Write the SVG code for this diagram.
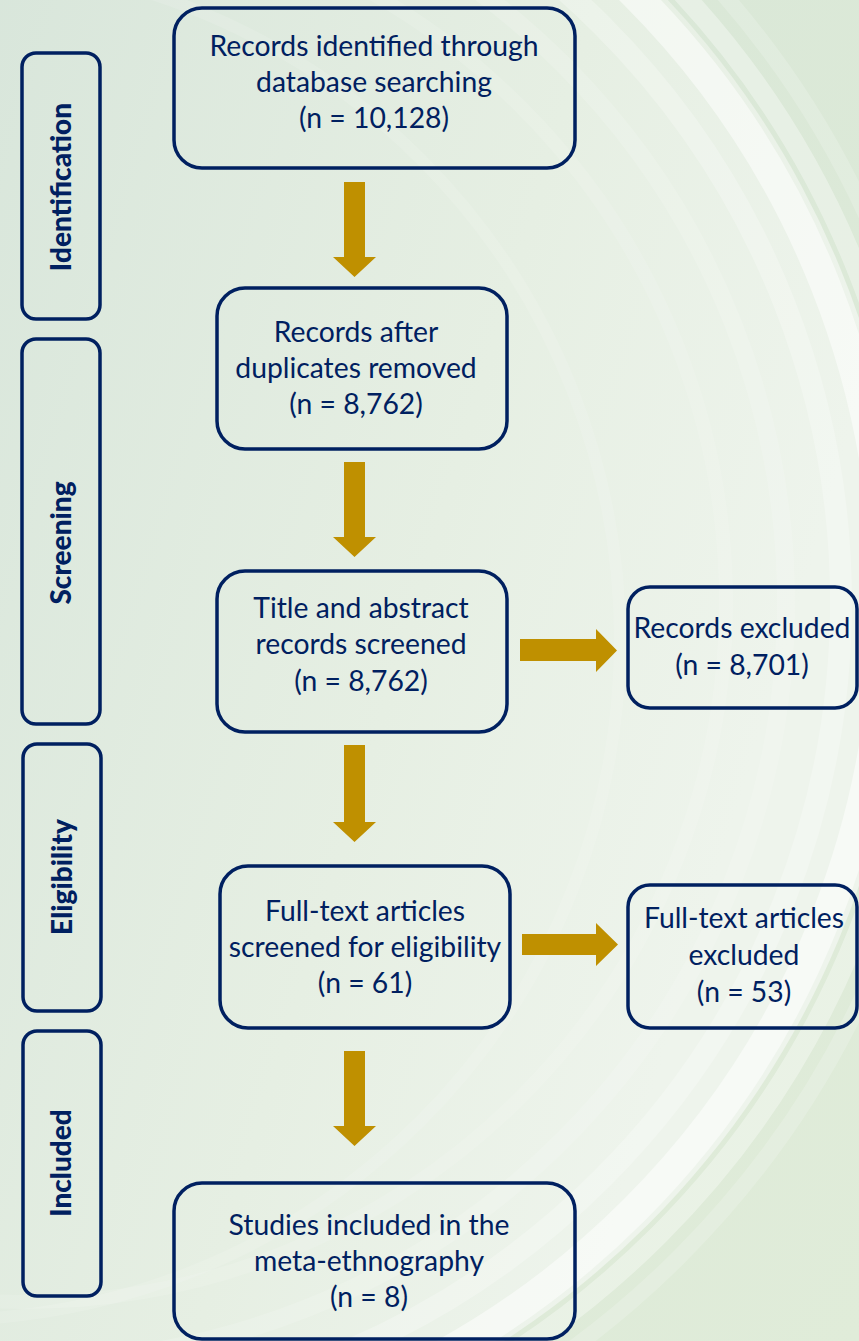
<svg xmlns="http://www.w3.org/2000/svg" width="859" height="1341" viewBox="0 0 859 1341">
<defs>
<linearGradient id="bgOuter" x1="0" y1="0" x2="1" y2="1">
<stop offset="0" stop-color="#d6e5d6"/>
<stop offset="1" stop-color="#e0ecd9"/>
</linearGradient>
<linearGradient id="bgInner" x1="0" y1="0" x2="1" y2="0.3">
<stop offset="0" stop-color="#cddedb"/>
<stop offset="0.45" stop-color="#d7e5da"/>
<stop offset="0.8" stop-color="#e6efe3"/>
<stop offset="1" stop-color="#eef4ec"/>
</linearGradient>
<style>
.box{fill:none;stroke:#002060;stroke-width:3.5}
.t{font-family:Lato,"Open Sans","Liberation Sans",sans-serif;font-size:28.3px;fill:#002060;text-anchor:middle}
.lab{font-family:Lato,"Open Sans","Liberation Sans",sans-serif;font-size:28px;font-weight:900;fill:#002060;text-anchor:middle}
.arr{fill:#bf9000}
.arc{fill:none;stroke:#ffffff}
</style>
</defs>
<g id="background">
<rect x="0" y="0" width="859" height="1341" fill="url(#bgOuter)"/>
<circle cx="26" cy="602" r="880" fill="url(#bgInner)"/>
<circle class="arc" cx="-60" cy="640" r="680" stroke-width="12" stroke-opacity="0.12"/>
<circle class="arc" cx="26" cy="602" r="700" stroke-width="14" stroke-opacity="0.12"/>
<circle class="arc" cx="26" cy="602" r="760" stroke-width="18" stroke-opacity="0.15"/>
<circle class="arc" cx="26" cy="602" r="815" stroke-width="22" stroke-opacity="0.25"/>
<circle class="arc" cx="26" cy="602" r="860" stroke-width="30" stroke-opacity="0.5"/>
<circle class="arc" cx="26" cy="602" r="895" stroke-width="20" stroke-opacity="0.35"/>
<circle class="arc" cx="26" cy="602" r="925" stroke-width="16" stroke-opacity="0.18"/>
</g>
<g id="connectors">
<polygon class="arr" points="344,182 365,182 365,257 376,257 354.5,277 333,257 344,257"/>
<polygon class="arr" points="344,462 365,462 365,537 376,537 354.5,557 333,537 344,537"/>
<polygon class="arr" points="344,745 365,745 365,822 376,822 354.5,842 333,822 344,822"/>
<polygon class="arr" points="344,1051 365,1051 365,1126 376,1126 354.5,1146 333,1126 344,1126"/>
<polygon class="arr" points="520,639 596,639 596,629 617,650.5 596,672 596,661 520,661"/>
<polygon class="arr" points="522,934 596,934 596,923 618,944.5 596,966 596,955 522,955"/>
</g>
<g id="stage-identification">
<rect class="box" x="22" y="53" width="78" height="266" rx="14"/>
<text class="lab" x="71" y="187" transform="rotate(-90 71 187)">Identification</text>
</g>
<g id="stage-screening">
<rect class="box" x="22" y="339" width="78" height="385" rx="14"/>
<text class="lab" x="71" y="543" transform="rotate(-90 71 543)">Screening</text>
</g>
<g id="stage-eligibility">
<rect class="box" x="23" y="744" width="78" height="267" rx="14"/>
<text class="lab" x="72" y="877" transform="rotate(-90 72 877)">Eligibility</text>
</g>
<g id="stage-included">
<rect class="box" x="23" y="1031" width="78" height="265" rx="14"/>
<text class="lab" x="71" y="1163" transform="rotate(-90 71 1163)">Included</text>
</g>
<g id="node-identified">
<rect class="box" x="174" y="8" width="401" height="160" rx="28"/>
<text class="t" x="374" y="56">Records identified through</text>
<text class="t" x="374" y="92">database searching</text>
<text class="t" x="374" y="128">(n = 10,128)</text>
</g>
<g id="node-duplicates">
<rect class="box" x="217" y="288" width="290" height="161" rx="28"/>
<text class="t" x="356" y="342">Records after</text>
<text class="t" x="356" y="378">duplicates removed</text>
<text class="t" x="356" y="414">(n = 8,762)</text>
</g>
<g id="node-screened">
<rect class="box" x="217" y="571" width="290" height="161" rx="28"/>
<text class="t" x="361" y="618">Title and abstract</text>
<text class="t" x="361" y="654">records screened</text>
<text class="t" x="361" y="691">(n = 8,762)</text>
</g>
<g id="node-excluded">
<rect class="box" x="628" y="587" width="229" height="121" rx="22"/>
<text class="t" x="742" y="638">Records excluded</text>
<text class="t" x="742" y="675">(n = 8,701)</text>
</g>
<g id="node-fulltext">
<rect class="box" x="220" y="866" width="290" height="162" rx="28"/>
<text class="t" x="365" y="921">Full-text articles</text>
<text class="t" x="365" y="957">screened for eligibility</text>
<text class="t" x="365" y="993">(n = 61)</text>
</g>
<g id="node-fulltext-excluded">
<rect class="box" x="628" y="885" width="229" height="143" rx="22"/>
<text class="t" x="744" y="928">Full-text articles</text>
<text class="t" x="744" y="965">excluded</text>
<text class="t" x="744" y="1002">(n = 53)</text>
</g>
<g id="node-included">
<rect class="box" x="174" y="1183" width="401" height="156" rx="28"/>
<text class="t" x="369" y="1235">Studies included in the</text>
<text class="t" x="369" y="1271">meta-ethnography</text>
<text class="t" x="369" y="1307">(n = 8)</text>
</g>
</svg>
